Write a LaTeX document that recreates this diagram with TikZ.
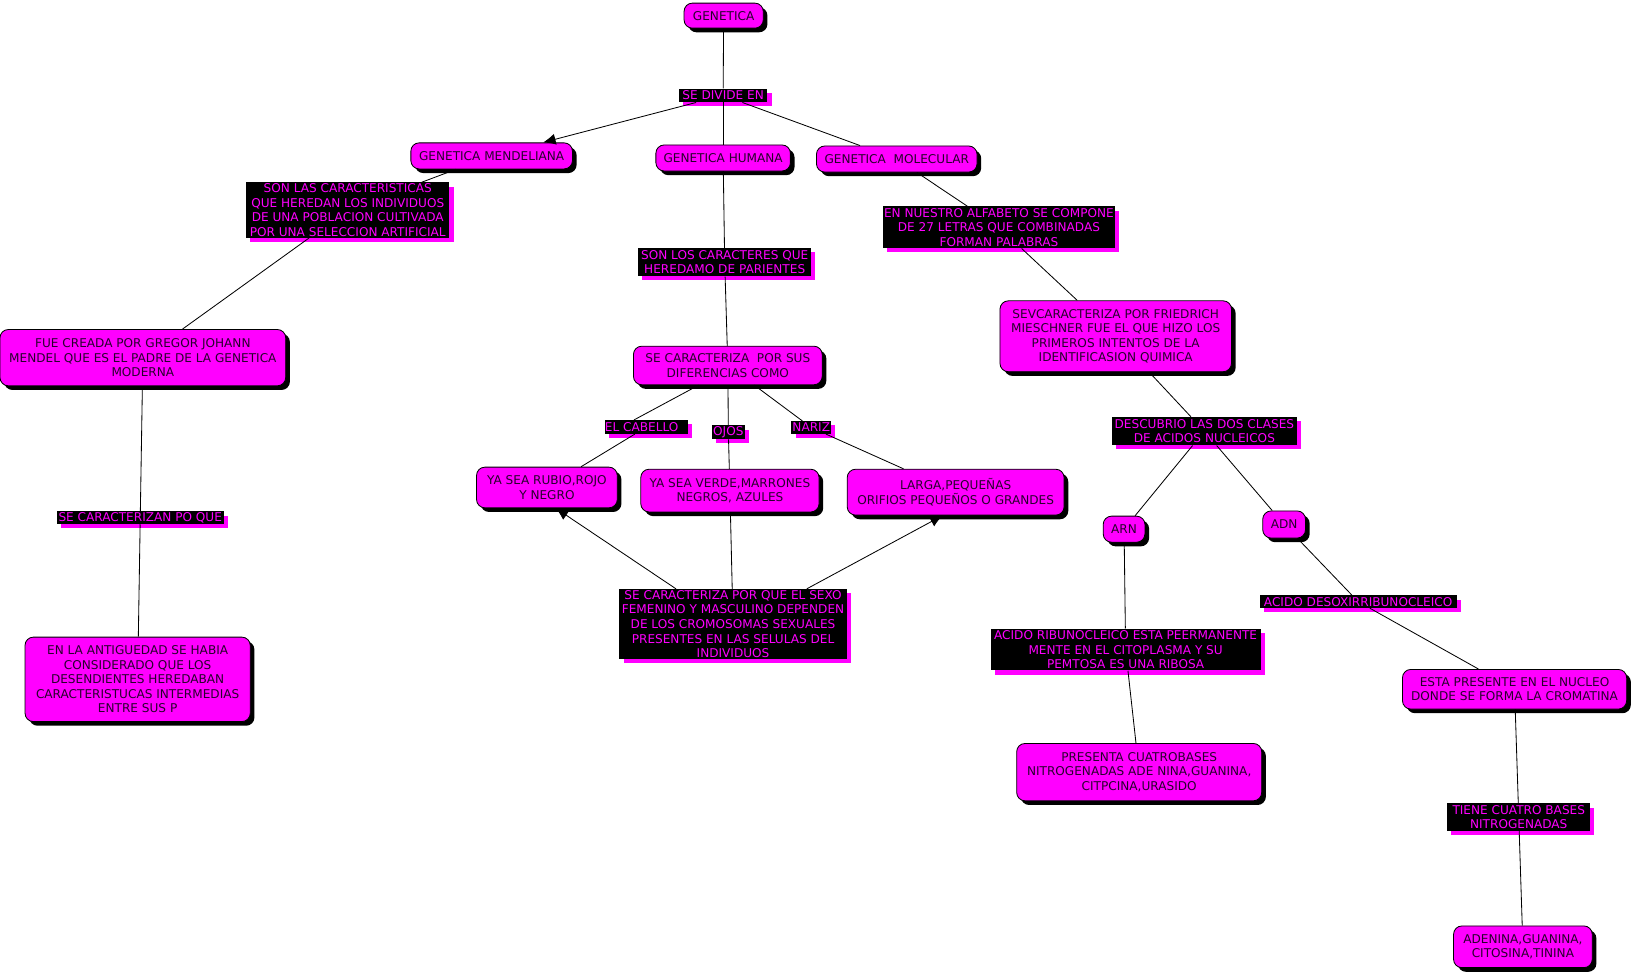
\documentclass[tikz,border=0pt]{standalone}
\usepackage{fontspec}
\setmainfont{DejaVu Sans}
\usetikzlibrary{shadows,arrows.meta}
\definecolor{mag}{RGB}{255,0,255}
\definecolor{ctext}{RGB}{40,0,45}
\begin{document}
\begin{tikzpicture}[x=0.75pt,y=-0.75pt,
  font=\fontsize{8.7pt}{10.5pt}\selectfont,
  sz/.style 2 args={minimum width=#1*0.75pt, minimum height=#2*0.75pt},
  concept/.style={draw=black, line width=0.6pt, fill=mag, text=ctext, rounded corners=6pt,
    align=center, inner sep=0pt,
    general shadow={fill=black, shadow xshift=3pt, shadow yshift=-3pt}},
  link/.style={fill=black, text=mag, align=center, inner sep=0pt,
    general shadow={fill=mag, shadow xshift=3pt, shadow yshift=-3pt}},
  conn/.style={draw=black, line width=0.6pt},
  arr/.style={conn, -{Latex[length=9pt,width=8pt]}}
]
\useasboundingbox (0,0) rectangle (1568,932);

% concepts and linking phrases
\node[concept, sz={76}{24}] (gen) at (694,15) {GENETICA};
\node[link, sz={85}{13}] (ldiv) at (693.5,91.5) {SE DIVIDE EN};
\node[concept, sz={155}{25}] (mend) at (471.5,149.5) {GENETICA MENDELIANA};
\node[concept, sz={129}{25}] (hum) at (693.5,151.5) {GENETICA HUMANA};
\node[concept, sz={154}{25}] (mol) at (860,152.5) {GENETICA\ \ MOLECULAR};
\node[link, sz={195}{53}] (lmend) at (333.5,201.5) {SON LAS CARACTERISTICAS\\QUE HEREDAN LOS INDIVIDUOS\\DE UNA POBLACION CULTIVADA\\POR UNA SELECCION ARTIFICIAL};
\node[link, sz={166}{27}] (lhum) at (695,251.5) {SON LOS CARACTERES QUE\\HEREDAMO DE PARIENTES};
\node[link, sz={222}{40}] (lmol) at (958,218) {EN NUESTRO ALFABETO SE COMPONE\\DE 27 LETRAS QUE COMBINADAS\\FORMAN PALABRAS};
\node[concept, sz={274}{54}] (fue) at (137,343) {FUE CREADA POR GREGOR JOHANN\\MENDEL QUE ES EL PADRE DE LA GENETICA\\MODERNA};
\node[concept, sz={181}{37}] (dif) at (698,350.5) {SE CARACTERIZA\ \ POR SUS\\DIFERENCIAS COMO};
\node[concept, sz={222}{68}] (sev) at (1070,322.5) {SEVCARACTERIZA POR FRIEDRICH\\MIESCHNER FUE EL QUE HIZO LOS\\PRIMEROS INTENTOS DE LA\\IDENTIFICASION QUIMICA};
\node[link, sz={80}{13}] (lcab) at (620,409.5) {EL CABELLO\hspace*{7pt}};
\node[link, sz={32}{13}] (lojos) at (698.5,414.5) {OJOS};
\node[link, sz={38}{12}] (lnariz) at (778,410) {NARIZ};
\node[concept, sz={135}{39}] (rubio) at (524.5,467.5) {YA SEA RUBIO,ROJO\\Y NEGRO};
\node[concept, sz={171}{41}] (verde) at (700,470.5) {YA SEA VERDE,MARRONES\\NEGROS, AZULES};
\node[concept, sz={208}{44}] (larga) at (916.5,472) {LARGA,PEQUEÑAS\\ORIFIOS PEQUEÑOS O GRANDES};
\node[link, sz={218}{67}] (lsexo) at (703,598.5) {SE CARACTERIZA POR QUE EL SEXO\\FEMENINO Y MASCULINO DEPENDEN\\DE LOS CROMOSOMAS SEXUALES\\PRESENTES EN LAS SELULAS DEL\\INDIVIDUOS};
\node[link, sz={178}{27}] (ldesc) at (1155,413.5) {DESCUBRIO LAS DOS CLASES\\DE ACIDOS NUCLEICOS};
\node[concept, sz={40}{25}] (arn) at (1078,507.5) {ARN};
\node[concept, sz={41}{26}] (adn) at (1231.5,503) {ADN};
\node[link, sz={160}{12}] (lsec) at (134.5,496.5) {SE CARACTERIZAN PO QUE};
\node[concept, sz={216}{81}] (ant) at (132,651.5) {EN LA ANTIGUEDAD SE HABIA\\CONSIDERADO QUE LOS\\DESENDIENTES HEREDABAN\\CARACTERISTUCAS INTERMEDIAS\\ENTRE SUS P};
\node[link, sz={259}{40}] (larn) at (1079.5,623) {ACIDO RIBUNOCLEICO ESTA PEERMANENTE\\MENTE EN EL CITOPLASMA Y SU\\PEMTOSA ES UNA RIBOSA};
\node[link, sz={189}{12}] (ladn) at (1302.5,577) {ACIDO DESOXIRRIBUNOCLEICO};
\node[concept, sz={215}{38}] (nucleo) at (1452.5,661) {ESTA PRESENTE EN EL NUCLEO\\DONDE SE FORMA LA CROMATINA};
\node[concept, sz={235}{55}] (presenta) at (1092.5,740.5) {PRESENTA CUATROBASES\\NITROGENADAS ADE NINA,GUANINA,\\CITPCINA,URASIDO};
\node[link, sz={137}{26}] (ltiene) at (1456.5,783.5) {TIENE CUATRO BASES\\NITROGENADAS};
\node[concept, sz={133}{40}] (adenina) at (1460.5,908) {ADENINA,GUANINA,\\CITOSINA,TININA};

% connectors
\draw[conn] (gen) -- (ldiv);
\draw[arr] (ldiv) -- (mend);
\draw[conn] (ldiv) -- (hum);
\draw[conn] (ldiv) -- (mol);
\draw[conn] (mend) -- (lmend);
\draw[conn] (lmend) -- (fue);
\draw[conn] (hum) -- (lhum);
\draw[conn] (lhum) -- (dif);
\draw[conn] (mol) -- (lmol);
\draw[conn] (lmol) -- (sev);
\draw[conn] ([xshift=-21pt]dif.south) -- ([xshift=-9pt]lcab.north);
\draw[conn] (lcab) -- (rubio);
\draw[conn] (dif) -- (lojos);
\draw[conn] (lojos) -- (verde);
\draw[conn] (dif) -- (lnariz);
\draw[conn] (lnariz) -- (larga);
\draw[arr] ([xshift=-41pt]lsexo.north) -- ([xshift=6.4pt]rubio.south);
\draw[conn] (lsexo) -- (verde);
\draw[arr] ([xshift=53pt]lsexo.north) -- ([xshift=-9.4pt]larga.south);
\draw[conn] (fue) -- (lsec);
\draw[conn] (lsec) -- (ant);
\draw[conn] (sev) -- (ldesc);
\draw[conn] (ldesc) -- (arn);
\draw[conn] (ldesc) -- (adn);
\draw[conn] (arn) -- (larn);
\draw[conn] (larn) -- (presenta);
\draw[conn] (adn) -- (ladn);
\draw[conn] (ladn) -- (nucleo);
\draw[conn] (nucleo) -- (ltiene);
\draw[conn] (ltiene) -- (adenina);
\end{tikzpicture}
\end{document}
